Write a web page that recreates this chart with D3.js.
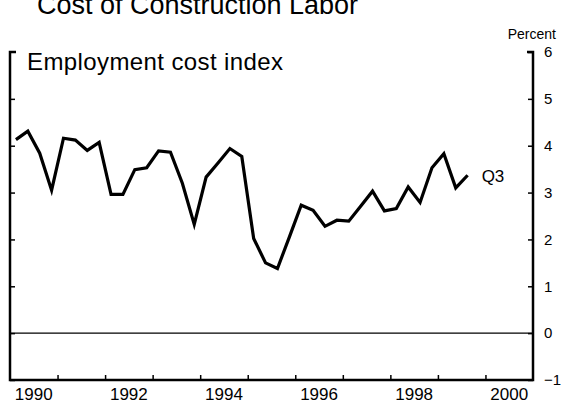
<!DOCTYPE html>
<html>
<head>
<meta charset="utf-8">
<script src="https://cdn.jsdelivr.net/npm/d3@7"></script>
<style>
  body { margin: 0; background: #fff; }
  svg text { font-family: "Liberation Sans", Arial, sans-serif; fill: #000; }
</style>
</head>
<body>
<div id="chart"></div>
<script>
// quarterly data, 1990 Q1 .. 1999 Q3 (percent change, employment cost index)
var startYear = 1990
var eciValues = [
  4.13, 4.31, 3.84, 3.05,
  4.16, 4.12, 3.90, 4.07,
  2.96, 2.96, 3.49, 3.53,
  3.89, 3.86, 3.20, 2.32,
  3.33, 3.63, 3.94, 3.77,
  2.02, 1.50, 1.38, 2.05,
  2.73, 2.62, 2.28, 2.41,
  2.39, 2.71, 3.03, 2.61,
  2.66, 3.12, 2.79, 3.53,
  3.83, 3.10, 3.37
]
var yearLabels = [1990, 1992, 1994, 1996, 1998, 2000]
var yTicks = [-1, 0, 1, 2, 3, 4, 5, 6]

var W = 561, H = 406
var svg = d3.select('#chart').append('svg')
  .attr('width', W)
  .attr('height', H)

var x = d3.scaleLinear().domain([1990, 2001]).range([10, 533])
var y = d3.scaleLinear().domain([-1, 6]).range([380, 52])

var data = eciValues.map(function (v, i) {
  return { t: startYear + (i + 0.5) / 4, v: v }
})

// title (cut off at top like the original)
svg.append('text')
  .attr('x', 37)
  .attr('y', 14)
  .attr('font-size', 27)
  .attr('textLength', 321)
  .text('Cost of Construction Labor')

svg.append('text')
  .attr('x', 556)
  .attr('y', 39)
  .attr('text-anchor', 'end')
  .attr('font-size', 14)
  .text('Percent')

// frame: left, right, bottom axes with bracket serifs at top
var frame = svg.append('g').attr('stroke', '#000').attr('fill', 'none')
frame.append('path')
  .attr('stroke-width', 2.5)
  .attr('d', 'M' + (x.range()[0] + 6) + ',' + y(6) + 'H' + x.range()[0] + 'V' + y(-1) +
    'H' + x.range()[1] + 'V' + y(6) + 'H' + (x.range()[1] - 6))

// zero line
frame.append('line')
  .attr('stroke-width', 1.2)
  .attr('x1', x.range()[0]).attr('x2', x.range()[1])
  .attr('y1', y(0)).attr('y2', y(0))

// y ticks on both sides, pointing inward
var yAxisR = d3.axisRight(y).tickValues(yTicks).tickSize(-5).tickPadding(11).tickFormat(d3.format('d'))
var gR = svg.append('g').attr('transform', 'translate(' + x.range()[1] + ',0)').call(yAxisR)
gR.select('.domain').remove()
gR.selectAll('line').attr('stroke-width', 1.5)
gR.selectAll('text').attr('font-size', 15).attr('font-family', '"Liberation Sans", Arial, sans-serif')

var yAxisL = d3.axisLeft(y).tickValues(yTicks.slice(0, -1)).tickSize(-5).tickFormat('')
var gL = svg.append('g').attr('transform', 'translate(' + x.range()[0] + ',0)').call(yAxisL)
gL.select('.domain').remove()
gL.selectAll('line').attr('stroke-width', 1.5)

// bottom ticks every year, pointing up
var xAxis = d3.axisBottom(x).tickValues(d3.range(1991, 2001)).tickSize(-5).tickFormat('')
var gB = svg.append('g').attr('transform', 'translate(0,' + y(-1) + ')').call(xAxis)
gB.select('.domain').remove()
gB.selectAll('line').attr('stroke-width', 1.5)

// year labels centred in their year
svg.append('g').selectAll('text')
  .data(yearLabels)
  .enter().append('text')
  .attr('x', d => x(d + 0.5))
  .attr('y', 400)
  .attr('text-anchor', 'middle')
  .attr('font-size', 17)
  .text(d => d)

svg.append('text')
  .attr('x', 27)
  .attr('y', 70)
  .attr('font-size', 24)
  .attr('textLength', 256)
  .text('Employment cost index')

// the series
var line = d3.line().x(d => x(d.t)).y(d => y(d.v))
svg.append('path')
  .datum(data)
  .attr('fill', 'none')
  .attr('stroke', '#000')
  .attr('stroke-width', 3.2)
  .attr('stroke-linejoin', 'miter')
  .attr('d', line)

var last = data[data.length - 1]
svg.append('text')
  .attr('x', x(last.t) + 14)
  .attr('y', y(3.37) + 7)
  .attr('font-size', 17)
  .text('Q3')
</script>
</body>
</html>
